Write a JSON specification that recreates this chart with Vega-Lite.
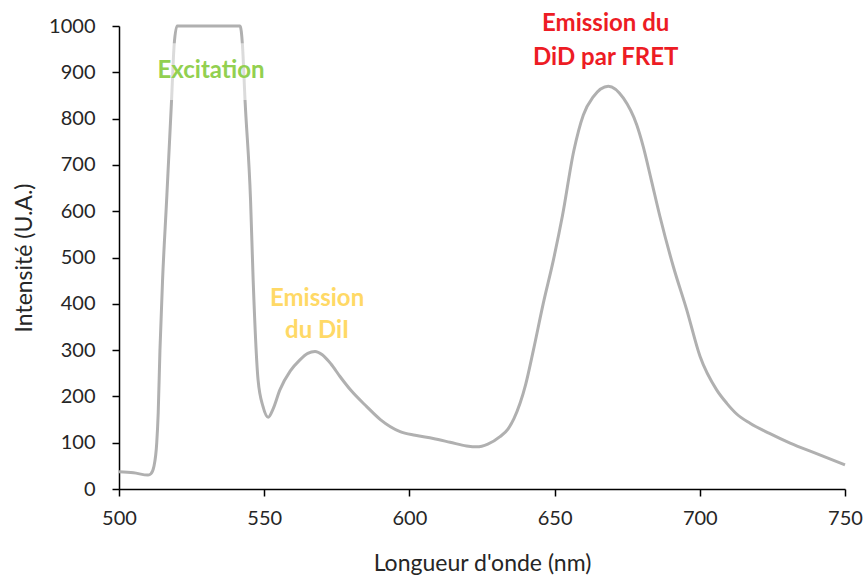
{
  "$schema": "https://vega.github.io/schema/vega-lite/v6.json",
  "width": 726,
  "height": 463,
  "autosize": "none",
  "padding": {"left": 119, "top": 26, "right": 20, "bottom": 89},
  "background": "white",
  "config": {
    "view": {"stroke": null},
    "font": "Lato",
    "axis": {
      "grid": false,
      "domainColor": "#000000",
      "domainWidth": 1.5,
      "tickColor": "#000000",
      "tickWidth": 1.5,
      "tickSize": 7,
      "labelFont": "Lato",
      "labelFontSize": 20,
      "labelColor": "#262626",
      "titleFont": "Lato",
      "titleFontSize": 23,
      "titleFontWeight": "normal",
      "titleColor": "#262626"
    }
  },
  "layer": [
    {
      "data": {"values": [
        {"nm": 500, "intensite": 37}, {"nm": 505, "intensite": 35}, {"nm": 510, "intensite": 30},
        {"nm": 511, "intensite": 33}, {"nm": 512, "intensite": 48}, {"nm": 513, "intensite": 100},
        {"nm": 513.5, "intensite": 164}, {"nm": 514.1, "intensite": 300}, {"nm": 515, "intensite": 451},
        {"nm": 516.4, "intensite": 624}, {"nm": 518.1, "intensite": 840}, {"nm": 519, "intensite": 960},
        {"nm": 520, "intensite": 1000}, {"nm": 541.7, "intensite": 1000}, {"nm": 542.5, "intensite": 960},
        {"nm": 543.4, "intensite": 840}, {"nm": 545.3, "intensite": 624}, {"nm": 546.2, "intensite": 451},
        {"nm": 547.9, "intensite": 235}, {"nm": 549.6, "intensite": 178}, {"nm": 551.4, "intensite": 155},
        {"nm": 553, "intensite": 172}, {"nm": 555.4, "intensite": 214}, {"nm": 559, "intensite": 255},
        {"nm": 562.3, "intensite": 279}, {"nm": 565, "intensite": 293}, {"nm": 567.5, "intensite": 297},
        {"nm": 570, "intensite": 290}, {"nm": 573, "intensite": 270}, {"nm": 576.1, "intensite": 243},
        {"nm": 580, "intensite": 212}, {"nm": 585.3, "intensite": 178}, {"nm": 590, "intensite": 150},
        {"nm": 596.8, "intensite": 124}, {"nm": 602, "intensite": 116}, {"nm": 608.2, "intensite": 109},
        {"nm": 614, "intensite": 101}, {"nm": 619.7, "intensite": 93}, {"nm": 623.2, "intensite": 91},
        {"nm": 627, "intensite": 97}, {"nm": 631.2, "intensite": 113}, {"nm": 634, "intensite": 130},
        {"nm": 636, "intensite": 152}, {"nm": 638.1, "intensite": 185}, {"nm": 640, "intensite": 225},
        {"nm": 642.7, "intensite": 300}, {"nm": 646.1, "intensite": 401}, {"nm": 649.6, "intensite": 495},
        {"nm": 652.7, "intensite": 590}, {"nm": 656.6, "intensite": 730}, {"nm": 659.9, "intensite": 808},
        {"nm": 663.3, "intensite": 847}, {"nm": 668.5, "intensite": 870}, {"nm": 673.7, "intensite": 844},
        {"nm": 678.3, "intensite": 786}, {"nm": 680.5, "intensite": 740}, {"nm": 683.2, "intensite": 670},
        {"nm": 686.3, "intensite": 588}, {"nm": 690.9, "intensite": 480}, {"nm": 695.5, "intensite": 387},
        {"nm": 700.1, "intensite": 286}, {"nm": 705.8, "intensite": 214}, {"nm": 709.3, "intensite": 185},
        {"nm": 712.7, "intensite": 162}, {"nm": 717.3, "intensite": 142}, {"nm": 724, "intensite": 120},
        {"nm": 731.1, "intensite": 99}, {"nm": 740, "intensite": 77}, {"nm": 750, "intensite": 52}
      ]},
      "mark": {"type": "line", "color": "#b0b0b0", "strokeWidth": 3, "interpolate": "monotone"},
      "encoding": {
        "x": {"field": "nm", "type": "quantitative", "scale": {"domain": [500, 750], "nice": false},
          "axis": {"values": [500, 550, 600, 650, 700, 750], "format": "d", "title": "Longueur d'onde (nm)", "labelPadding": 12, "titlePadding": 24, "labelFlush": false}},
        "y": {"field": "intensite", "type": "quantitative", "scale": {"domain": [0, 1000], "nice": false},
          "axis": {"values": [0, 100, 200, 300, 400, 500, 600, 700, 800, 900, 1000], "format": "d", "title": "Intensité (U.A.)", "labelPadding": 17, "titlePadding": 12, "labelFlush": false}}
      }
    },
    {
      "data": {"values": [{"x1": 511, "x2": 552, "y1": 840, "y2": 963}]},
      "mark": {"type": "rect", "color": "white", "opacity": 0.55},
      "encoding": {
        "x": {"field": "x1", "type": "quantitative"},
        "x2": {"field": "x2"},
        "y": {"field": "y1", "type": "quantitative"},
        "y2": {"field": "y2"}
      }
    },
    {
      "data": {"values": [{"label": "Excitation", "x": 531.7, "y": 902}]},
      "mark": {"type": "text", "color": "#92D050", "fontSize": 24, "fontWeight": "bold", "align": "center", "baseline": "middle"},
      "encoding": {
        "x": {"field": "x", "type": "quantitative"},
        "y": {"field": "y", "type": "quantitative"},
        "text": {"field": "label"}
      }
    },
    {
      "data": {"values": [{"label": "Emission|du DiI", "x": 568.2, "y": 410}]},
      "mark": {"type": "text", "color": "#FFD966", "fontSize": 24, "fontWeight": "bold", "align": "center", "baseline": "middle", "lineBreak": "|", "lineHeight": 32},
      "encoding": {
        "x": {"field": "x", "type": "quantitative"},
        "y": {"field": "y", "type": "quantitative"},
        "text": {"field": "label"}
      }
    },
    {
      "data": {"values": [{"label": "Emission du|DiD par FRET", "x": 667.6, "y": 1004}]},
      "mark": {"type": "text", "color": "#ED1C24", "fontSize": 24, "fontWeight": "bold", "align": "center", "baseline": "middle", "lineBreak": "|", "lineHeight": 34},
      "encoding": {
        "x": {"field": "x", "type": "quantitative"},
        "y": {"field": "y", "type": "quantitative"},
        "text": {"field": "label"}
      }
    }
  ]
}
